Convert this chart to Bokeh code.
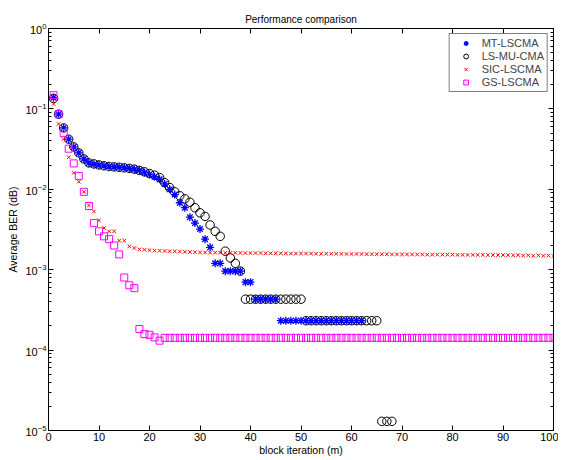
from bokeh.plotting import figure
from bokeh.models import (LinearAxis, LogAxis, FixedTicker, LogTicker, Legend,
                          LegendItem, ColumnDataSource)
from bokeh.embed import file_html
from bokeh.resources import INLINE

# ---------------- data ----------------
mt_iter = list(range(1, 63))
mt_ber = [0.138, 0.086, 0.058, 0.042, 0.0337, 0.0284, 0.0239, 0.0213, 0.0205, 0.0200,
          0.0196, 0.0192, 0.0190, 0.0188, 0.0185, 0.0182, 0.0178, 0.0172, 0.0162, 0.0153,
          0.0143, 0.0133, 0.0117, 0.0100, 0.0086, 0.0068, 0.0059, 0.0045, 0.0038, 0.0032,
          0.0024, 0.0019, 0.0012, 0.0012, 0.00096, 0.00096, 0.00096, 0.00096, 0.00070, 0.00070,
          0.00043, 0.00043, 0.00043, 0.00043, 0.00043, 0.000232, 0.000232, 0.000232, 0.000232, 0.000232,
          0.000232, 0.000232, 0.000232, 0.000232, 0.000232, 0.000232, 0.000232, 0.000232, 0.000232, 0.000232,
          0.000232, 0.000232]

lsmu_iter = list(range(1, 69))
lsmu_ber = [0.135, 0.086, 0.058, 0.042, 0.0337, 0.0284, 0.0239, 0.0213, 0.0207, 0.0201,
            0.0196, 0.0192, 0.0190, 0.0188, 0.0185, 0.0182, 0.0178, 0.0172, 0.0165, 0.0157,
            0.0150, 0.0140, 0.0121, 0.0105, 0.0093, 0.0083, 0.0076, 0.0069, 0.0059, 0.0051,
            0.0046, 0.0036, 0.0030, 0.0026, 0.0017, 0.0014, 0.0012, 0.00096, 0.00043, 0.00043,
            0.00043, 0.00043, 0.00043, 0.00043, 0.00043, 0.00043, 0.00043, 0.00043, 0.00043, 0.00043,
            0.000232, 0.000232, 0.000232, 0.000232, 0.000232, 0.000232, 0.000232, 0.000232, 0.000232, 0.000232,
            0.000232, 0.000232, 0.000232, 0.000232, 0.000232, 1.3e-5, 1.3e-5, 1.3e-5]

sic_iter = list(range(1, 101))
sic_ber = [0.115, 0.065, 0.042, 0.025, 0.016, 0.0124, 0.0093, 0.0063, 0.0053, 0.0041,
           0.0033, 0.0030, 0.0030, 0.0023, 0.0023, 0.00195, 0.00186, 0.00179, 0.00177, 0.00175,
           0.00173, 0.00172, 0.00171, 0.00170, 0.00169, 0.00168, 0.00167, 0.00166, 0.00165, 0.00164,
           0.00164, 0.00163, 0.00163, 0.00163, 0.00162, 0.00162, 0.00162, 0.00162, 0.00161, 0.00161,
           0.00161, 0.00161, 0.00160, 0.00160, 0.00160, 0.00160, 0.00160, 0.00159, 0.00159, 0.00159,
           0.00159, 0.00159, 0.00158, 0.00158, 0.00158, 0.00158, 0.00158, 0.00157, 0.00157, 0.00157,
           0.00157, 0.00157, 0.00156, 0.00156, 0.00156, 0.00156, 0.00156, 0.00155, 0.00155, 0.00155,
           0.00155, 0.00155, 0.00155, 0.00155, 0.00154, 0.00154, 0.00154, 0.00154, 0.00154, 0.00154,
           0.00153, 0.00153, 0.00153, 0.00153, 0.00153, 0.00153, 0.00152, 0.00152, 0.00152, 0.00152,
           0.00152, 0.00151, 0.00152, 0.00150, 0.00151, 0.00149, 0.00151, 0.00149, 0.00150, 0.00148]

gs_iter = list(range(1, 101))
gs_ber = [0.148, 0.086, 0.050, 0.032, 0.021, 0.0147, 0.0093, 0.0062, 0.0038, 0.0030,
          0.0026, 0.0024, 0.0020, 0.00155, 0.00080, 0.00064, 0.00059, 0.000183, 0.000158, 0.000155,
          0.000144, 0.000131, 0.000142, 0.000142, 0.000142, 0.000142, 0.000142, 0.000142, 0.000142, 0.000142,
          0.000142, 0.000142, 0.000142, 0.000142, 0.000142, 0.000142, 0.000142, 0.000142, 0.000142, 0.000142,
          0.000142, 0.000142, 0.000142, 0.000142, 0.000142, 0.000142, 0.000142, 0.000142, 0.000142, 0.000142,
          0.000142, 0.000142, 0.000142, 0.000142, 0.000142, 0.000142, 0.000142, 0.000142, 0.000142, 0.000142,
          0.000142, 0.000142, 0.000142, 0.000142, 0.000142, 0.000142, 0.000142, 0.000142, 0.000142, 0.000142,
          0.000142, 0.000142, 0.000142, 0.000142, 0.000142, 0.000142, 0.000142, 0.000142, 0.000142, 0.000142,
          0.000142, 0.000142, 0.000142, 0.000142, 0.000142, 0.000142, 0.000142, 0.000142, 0.000142, 0.000142,
          0.000142, 0.000142, 0.000142, 0.000142, 0.000142, 0.000142, 0.000142, 0.000142, 0.000142, 0.000142]

x_ticks = [0, 10, 20, 30, 40, 50, 60, 70, 80, 90, 100]
title_text = "Performance comparison"
x_label = "block iteration (m)"
y_label = "Average BER (dB)"
series_names = ["MT-LSCMA", "LS-MU-CMA", "SIC-LSCMA", "GS-LSCMA"]

FONT = "Liberation Sans"

# ---------------- figure ----------------
p = figure(width=558, height=458, y_axis_type="log",
           x_range=(0, 100), y_range=(1e-5, 1),
           output_backend="svg", toolbar_location=None,
           title=title_text,
           min_border_left=48, min_border_right=5,
           min_border_top=28, min_border_bottom=26)
p.title.align = "center"
p.title.text_font = FONT
p.title.text_font_size = "10px"
p.title.text_font_style = "normal"
p.title.text_color = "black"
p.title.standoff = 8
p.background_fill_color = "white"
p.border_fill_color = "white"
p.outline_line_color = "black"
p.outline_line_width = 1
p.xgrid.visible = False
p.ygrid.visible = False

def style_axis(ax, labels=True, minor=False):
    ax.axis_line_color = "black"
    ax.axis_line_width = 1
    ax.major_tick_in = 5
    ax.major_tick_out = 0
    ax.major_tick_line_color = "black"
    ax.major_tick_line_width = 1
    if minor:
        ax.minor_tick_in = 3
        ax.minor_tick_out = 0
        ax.minor_tick_line_color = "black"
    else:
        ax.minor_tick_line_color = None
    if labels:
        ax.major_label_text_font = FONT
        ax.major_label_text_font_size = "11px"
        ax.major_label_text_color = "black"
        ax.major_label_standoff = 2
        ax.axis_label_text_font = FONT
        ax.axis_label_text_font_size = "10.5px"
        ax.axis_label_text_font_style = "normal"
        ax.axis_label_text_color = "black"
        ax.axis_label_standoff = 0
    else:
        ax.major_label_text_font_size = "1px"
        ax.major_label_text_alpha = 0
        ax.major_label_standoff = 0

xa = p.xaxis[0]
xa.ticker = FixedTicker(ticks=x_ticks)
style_axis(xa, labels=True, minor=False)
xa.axis_label = x_label
ya = p.yaxis[0]
ya.ticker = LogTicker(num_minor_ticks=10)
style_axis(ya, labels=True, minor=True)
ya.axis_label = y_label
ya.axis_label_standoff = 3

top = LinearAxis(ticker=FixedTicker(ticks=x_ticks))
style_axis(top, labels=False, minor=False)
p.add_layout(top, "above")
right = LogAxis(ticker=LogTicker(num_minor_ticks=10))
style_axis(right, labels=False, minor=True)
p.add_layout(right, "right")

# ---------------- data marks ----------------
src_ls = ColumnDataSource(dict(x=lsmu_iter, y=lsmu_ber))
src_mt = ColumnDataSource(dict(x=mt_iter, y=mt_ber))
src_sic = ColumnDataSource(dict(x=sic_iter, y=sic_ber))
src_gs = ColumnDataSource(dict(x=gs_iter, y=gs_ber))

r_ls = p.scatter("x", "y", source=src_ls, marker="circle", size=8.5,
                 fill_color=None, line_color="black", line_width=1)
r_mt = p.scatter("x", "y", source=src_mt, marker="asterisk", size=8,
                 line_color="#0000ff", line_width=1.3)
r_sic = p.scatter("x", "y", source=src_sic, marker="x", size=5,
                  line_color="#ff0000", line_width=1)
r_gs = p.scatter("x", "y", source=src_gs, marker="square", size=7,
                 fill_color=None, line_color="#ff00ff", line_width=1)

legend = Legend(items=[LegendItem(label=series_names[0], renderers=[r_mt]),
                       LegendItem(label=series_names[1], renderers=[r_ls]),
                       LegendItem(label=series_names[2], renderers=[r_sic]),
                       LegendItem(label=series_names[3], renderers=[r_gs])],
                location="top_right", margin=5)
legend.border_line_color = "black"
legend.border_line_width = 1
legend.background_fill_color = "white"
legend.background_fill_alpha = 1
legend.label_text_font = FONT
legend.label_text_font_size = "11px"
legend.label_height = 12
legend.glyph_height = 12
legend.glyph_width = 26
legend.spacing = 1
legend.padding = 3
legend.label_standoff = 3
p.add_layout(legend)

open("out.html", "w").write(file_html(p, INLINE))
